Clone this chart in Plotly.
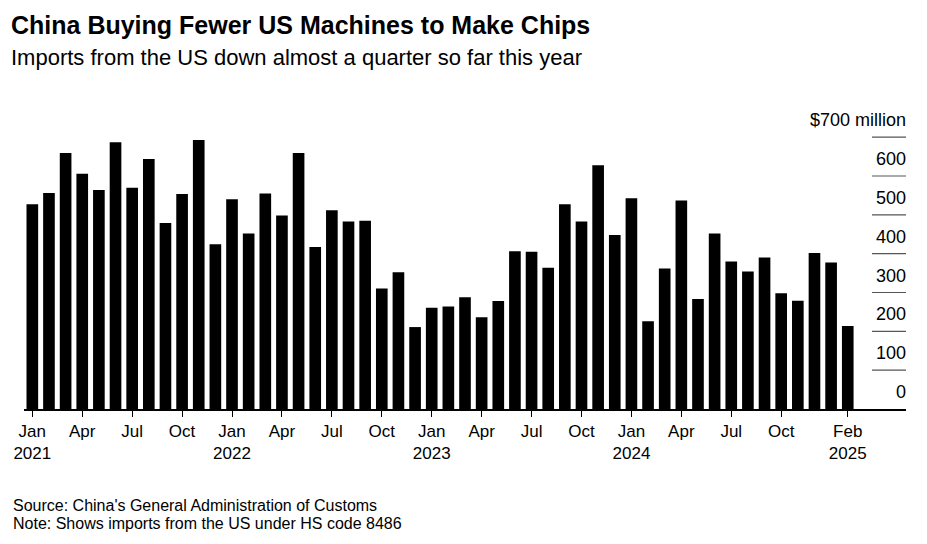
import pandas as pd
import plotly.graph_objects as go

# ---- data ----
months = pd.date_range("2021-01-01", "2025-02-01", freq="MS").strftime("%Y-%m").tolist()
imports_musd = [527, 556, 659, 606, 564, 687, 570, 644, 479, 554, 693, 424,
                540, 452, 555, 498, 659, 417, 512, 483, 485, 310, 352, 211,
                261, 264, 288, 236, 278, 406, 405, 364, 527, 483, 628, 448,
                543, 226, 362, 537, 283, 452, 380, 354, 390, 298, 279, 402,
                377, 214]
x_tick_months = ["2021-01", "2021-04", "2021-07", "2021-10",
                 "2022-01", "2022-04", "2022-07", "2022-10",
                 "2023-01", "2023-04", "2023-07", "2023-10",
                 "2024-01", "2024-04", "2024-07", "2024-10", "2025-02"]
x_tick_text = ["Jan<br>2021", "Apr", "Jul", "Oct",
               "Jan<br>2022", "Apr", "Jul", "Oct",
               "Jan<br>2023", "Apr", "Jul", "Oct",
               "Jan<br>2024", "Apr", "Jul", "Oct", "Feb<br>2025"]
y_tick_vals = [0, 100, 200, 300, 400, 500, 600, 700]
y_tick_text = ["0", "100", "200", "300", "400", "500", "600", "$700 million"]

# ---- layout geometry (px) ----
W, H = 927, 544
plot_left, plot_right = 24, 906
plot_top, plot_bottom = 110, 409
y_max = 770
FONT = "Liberation Sans, Arial, Helvetica, sans-serif"


def py(ypx):
    return (plot_bottom - ypx) / (plot_bottom - plot_top)


def px(xpx):
    return (xpx - plot_left) / (plot_right - plot_left)


x_idx = list(range(len(months)))
tick_idx = [months.index(m) for m in x_tick_months]

fig = go.Figure(go.Bar(x=x_idx, y=imports_musd, customdata=months,
                       marker=dict(color="#000000", line=dict(width=0)),
                       hovertemplate="%{customdata}: $%{y} million<extra></extra>"))

shapes = []
for v in y_tick_vals[1:]:
    shapes.append(dict(type="line", xref="paper", yref="y", x0=px(872), x1=1, y0=v, y1=v,
                       line=dict(color="#555555", width=1.2)))

annotations = [
    dict(text="<b>China Buying Fewer US Machines to Make Chips</b>", x=px(9), y=py(25),
         xref="paper", yref="paper", xanchor="left", yanchor="middle", showarrow=False,
         font=dict(family=FONT, size=25, color="#000000")),
    dict(text="Imports from the US down almost a quarter so far this year", x=px(9), y=py(58),
         xref="paper", yref="paper", xanchor="left", yanchor="middle", showarrow=False,
         font=dict(family=FONT, size=22, color="#000000")),
    dict(text="Source: China's General Administration of Customs", x=px(11), y=py(505),
         xref="paper", yref="paper", xanchor="left", yanchor="middle", showarrow=False,
         font=dict(family=FONT, size=16, color="#000000")),
    dict(text="Note: Shows imports from the US under HS code 8486", x=px(11), y=py(523),
         xref="paper", yref="paper", xanchor="left", yanchor="middle", showarrow=False,
         font=dict(family=FONT, size=16, color="#000000")),
]
# y-axis value labels sit just above their gridlines, right-aligned at the plot edge
for v, t in zip(y_tick_vals, y_tick_text):
    annotations.append(dict(text=t, x=px(908), y=v, xref="paper", yref="y",
                            xanchor="right", yanchor="middle", yshift=17, showarrow=False,
                            font=dict(family=FONT, size=18, color="#000000")))

fig.update_layout(
    width=W, height=H,
    margin=dict(l=plot_left, r=W - plot_right, t=plot_top, b=H - plot_bottom, pad=0),
    paper_bgcolor="white", plot_bgcolor="white",
    bargap=0.3, showlegend=False,
    shapes=shapes, annotations=annotations,
    font=dict(family=FONT, color="#000000"),
    xaxis=dict(range=[-0.5, 52.5], tickmode="array",
               tickvals=tick_idx, ticktext=x_tick_text,
               ticks="outside", ticklen=6, tickwidth=1, tickcolor="#000000",
               showline=True, linecolor="#000000", linewidth=1.5,
               showgrid=False, zeroline=False, tickangle=0,
               tickfont=dict(family=FONT, size=17, color="#000000")),
    yaxis=dict(range=[0, y_max], showticklabels=False,
               ticks="", showgrid=False, zeroline=False, showline=False),
)

fig.write_html("out.html")
